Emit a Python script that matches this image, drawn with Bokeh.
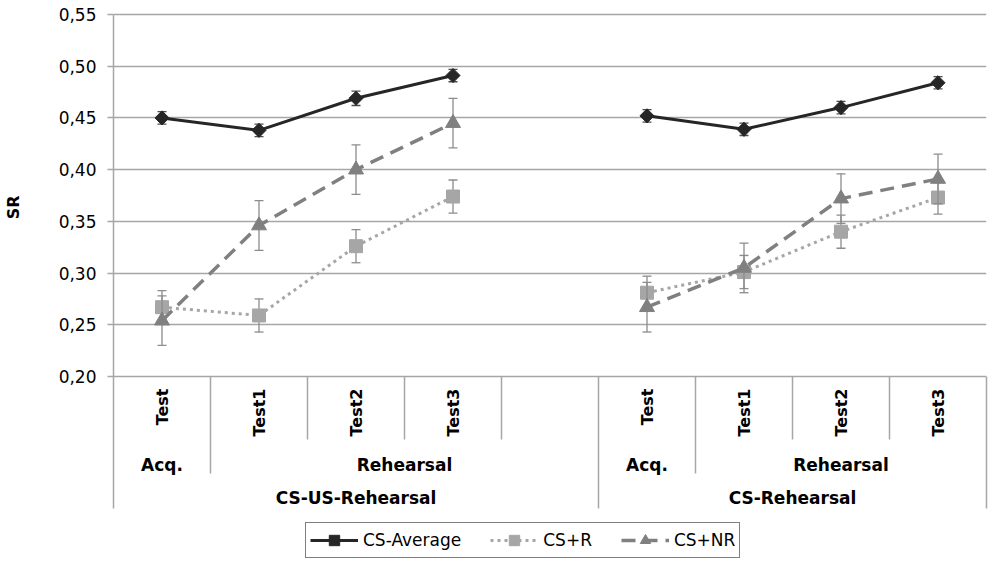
import numpy as np
from math import pi
from bokeh.plotting import figure
from bokeh.models import (FactorRange, Range1d, FixedTicker, CustomJSTickFormatter,
                          LinearAxis, Legend, LegendItem, Title)
from bokeh.core.properties import value
from bokeh.embed import file_html
from bokeh.resources import INLINE

# ---------------- data ----------------
slot_group = ["CS-US-Rehearsal"] * 5 + ["CS-Rehearsal"] * 4
slot_phase = ["Acq.", "Rehearsal", "Rehearsal", "Rehearsal", "Rehearsal",
              "Acq.", "Rehearsal", "Rehearsal", "Rehearsal"]
slot_test = ["Test", "Test1", "Test2", "Test3", " ",
             "Test", "Test1", "Test2", "Test3"]

NaN = float("nan")
cs_average     = [0.450, 0.438, 0.469, 0.491, NaN, 0.452, 0.439, 0.460, 0.484]
cs_average_err = [0.006, 0.006, 0.007, 0.006, NaN, 0.006, 0.006, 0.006, 0.006]
cs_r           = [0.267, 0.259, 0.326, 0.374, NaN, 0.281, 0.301, 0.340, 0.373]
cs_r_err       = [0.016, 0.016, 0.016, 0.016, NaN, 0.016, 0.016, 0.016, 0.016]
cs_nr          = [0.254, 0.346, 0.400, 0.445, NaN, 0.267, 0.305, 0.372, 0.391]
cs_nr_err      = [0.024, 0.024, 0.024, 0.024, NaN, 0.024, 0.024, 0.024, 0.024]

series_names = ["CS-Average", "CS+R", "CS+NR"]
y_ticks = [0.20, 0.25, 0.30, 0.35, 0.40, 0.45, 0.50, 0.55]
y_title = "SR"

# ---------------- layout / style ----------------
W, H = 992, 564
FRAME_L, FRAME_T, BORDER_R = 113, 12, 6
PLOT_PX = 362                      # pixels between lowest and highest tick
TOP_PAD = 2                        # pixels above highest tick
PX = (y_ticks[-1] - y_ticks[0]) / PLOT_PX
Y0 = y_ticks[0]
frame_h = H - FRAME_T
y_end = y_ticks[-1] + TOP_PAD * PX
y_start = y_end - frame_h * PX

# rows of the category area (pixels below the base line)
ROW1_TXT, ROW1_SEP = 12, 63
ROW2_TXT, ROW2_SEP = 88, 97
ROW3_TXT, ROW3_SEP = 121, 132

FONT = "DejaVu Sans"
GRID_C = "#a6a6a6"
AVG_C, R_C, NR_C = "#262626", "#a6a6a6", "#808080"
ERR_AVG_C, ERR_C = "#4d4d4d", "#8c8c8c"

factors = list(zip(slot_group, slot_phase, slot_test))

p = figure(width=W, height=H, title=None,
           x_range=FactorRange(factors=factors, factor_padding=0, subgroup_padding=0,
                               group_padding=0, range_padding=0),
           y_range=Range1d(y_start, y_end),
           x_axis_location=None, toolbar_location=None, output_backend="svg",
           min_border_left=FRAME_L, min_border_right=BORDER_R,
           min_border_top=FRAME_T, min_border_bottom=0)
p.outline_line_color = None
p.background_fill_color = "white"

ticker = FixedTicker(ticks=y_ticks)
yax = p.yaxis[0]
yax.ticker = ticker
yax.formatter = CustomJSTickFormatter(code="return tick.toFixed(2).replace('.', ',');")
yax.bounds = (Y0 - ROW3_SEP * PX, y_ticks[-1])
yax.axis_line_color = GRID_C
yax.axis_line_width = 1.5
yax.major_tick_line_color = GRID_C
yax.major_tick_line_width = 1.5
yax.major_tick_out = 6
yax.major_tick_in = 0
yax.minor_tick_out = 0
yax.minor_tick_in = 0
yax.minor_tick_line_color = None
yax.major_label_standoff = 11
yax.major_label_text_font = FONT
yax.major_label_text_font_size = "17px"
yax.major_label_text_color = "#000000"

p.ygrid.ticker = ticker
p.ygrid.grid_line_color = GRID_C
p.ygrid.grid_line_width = 1.5
p.xgrid.grid_line_color = None

# blank spacer between the tick labels and the y title (one white tick, no label)
spacer = LinearAxis(ticker=FixedTicker(ticks=[y_start + 2 * PX]), axis_line_color=None,
                    major_tick_out=30, major_tick_in=0, major_tick_line_color="white",
                    minor_tick_out=0, minor_tick_in=0, minor_tick_line_color=None,
                    major_label_standoff=0,
                    formatter=CustomJSTickFormatter(code="return '';"))
p.add_layout(spacer, "left")

# y title: left panel, its end placed on the value scale
p.add_layout(Title(text=y_title, align="right", vertical_align="top", offset=183,
                   standoff=2, text_font=FONT, text_font_style="bold",
                   text_font_size="16px", text_color="#000000"), "left")

# right border line of the category area
rax = LinearAxis(ticker=FixedTicker(ticks=[]), bounds=(Y0 - ROW3_SEP * PX, Y0),
                 axis_line_color=GRID_C, axis_line_width=1.5,
                 major_tick_out=0, major_tick_in=0, minor_tick_out=0, minor_tick_in=0,
                 major_label_text_font_size="0px")
p.add_layout(rax, "right")

# ---------------- category area: separators and labels ----------------
def runs(keys):
    out, start = [], 0
    for i in range(1, len(keys) + 1):
        if i == len(keys) or keys[i] != keys[start]:
            out.append((keys[start], start, i))
            start = i
    return out

sep_x, sep_y1 = [], []
for i in range(1, len(factors)):
    if slot_group[i] != slot_group[i - 1]:
        d = ROW3_SEP
    elif slot_phase[i] != slot_phase[i - 1]:
        d = ROW2_SEP
    else:
        d = ROW1_SEP
    sep_x.append(float(i))
    sep_y1.append(Y0 - d * PX)
p.segment(x0=sep_x, y0=[Y0] * len(sep_x), x1=sep_x, y1=sep_y1,
          line_color=GRID_C, line_width=1.5)

row1 = [(f, t) for f, t in zip(factors, slot_test) if t.strip()]
p.text(x=[f for f, _ in row1], y=[Y0 - ROW1_TXT * PX] * len(row1),
       text=[t for _, t in row1], angle=pi / 2,
       text_align="right", text_baseline="middle",
       text_font=value(FONT), text_font_style="bold", text_font_size="16px",
       text_color="#000000")

phase_runs = runs(list(zip(slot_group, slot_phase)))
p.text(x=[(a + b) / 2 for _, a, b in phase_runs], y=[Y0 - ROW2_TXT * PX] * len(phase_runs),
       text=[k[1] for k, _, _ in phase_runs],
       text_align="center", text_baseline="middle",
       text_font=value(FONT), text_font_style="bold", text_font_size="17px",
       text_color="#000000")

group_runs = runs(slot_group)
p.text(x=[(a + b) / 2 for _, a, b in group_runs], y=[Y0 - ROW3_TXT * PX] * len(group_runs),
       text=[k for k, _, _ in group_runs],
       text_align="center", text_baseline="middle",
       text_font=value(FONT), text_font_style="bold", text_font_size="17px",
       text_color="#000000")

# ---------------- series ----------------
specs = [
    (cs_average, cs_average_err, AVG_C, ERR_AVG_C, "solid", 3.0,
     dict(marker="square", angle=pi / 4, size=10)),
    (cs_r, cs_r_err, R_C, ERR_C, "3 4", 3.0,
     dict(marker="square", size=13)),
    (cs_nr, cs_nr_err, NR_C, ERR_C, "14 8", 3.5,
     dict(marker="triangle", size=15)),
]

items = []
for name, (vals, errs, col, ecol, dash, lw, mk) in zip(series_names, specs):
    v = np.array(vals, dtype=float)
    e = np.array(errs, dtype=float)
    lo, hi = v - e, v + e
    p.segment(x0=factors, y0=lo, x1=factors, y1=hi, line_color=ecol, line_width=1.3)
    p.scatter(x=factors + factors, y=np.concatenate([lo, hi]), marker="dash", size=9,
              line_color=ecol, line_width=1.3)
    ln = p.line(x=factors, y=v, line_color=col, line_width=lw, line_dash=dash)
    sc = p.scatter(x=factors, y=v, fill_color=col, line_color=col, **mk)
    items.append(LegendItem(label=name, renderers=[ln, sc]))

legend = Legend(items=items, location=(192, 6), orientation="horizontal",
                label_text_font=FONT, label_text_font_size="17px", label_text_color="#000000",
                glyph_width=48, glyph_height=26, label_standoff=5, spacing=29,
                padding=4, margin=0, border_line_color="#000000", border_line_width=1.5,
                background_fill_color="white", background_fill_alpha=1.0)
p.add_layout(legend)

open("out.html", "w").write(file_html(p, INLINE))
